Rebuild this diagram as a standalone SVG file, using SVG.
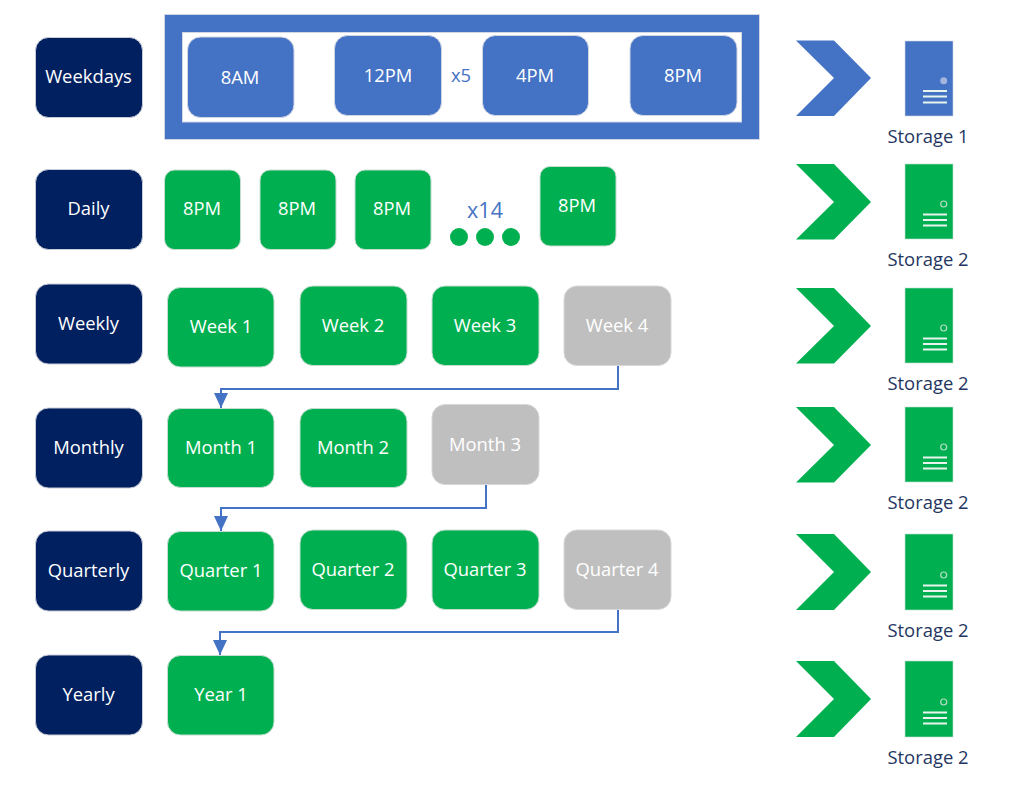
<svg xmlns="http://www.w3.org/2000/svg" width="1024" height="793" viewBox="0 0 1024 793">
<style>
text{font-family:"Open Sans","Liberation Sans",sans-serif;text-anchor:middle;font-size:18.4px}
.l{fill:#fff}
.n{fill:#002060;stroke:#c8ccd6;stroke-width:1}
.b{fill:#4472c4;stroke:#d0d6e4;stroke-width:1}
.g{fill:#00b050;stroke:#c4ddcf;stroke-width:1}
.y{fill:#bfbfbf;stroke:#d8d8d8;stroke-width:1}
.s{fill:#24365f}
.c{fill:none;stroke:#4472c4;stroke-width:2}
.sl{stroke:#e8f4ee;stroke-width:2}
.o{fill:none;stroke:#b4dfc6;stroke-width:1.200}
</style>
<defs><marker id="a" markerWidth="14" markerHeight="15" refX="7" refY="15" orient="0" markerUnits="userSpaceOnUse"><path d="M0 0H14L7 15Z" fill="#4472c4"/></marker></defs>
<rect width="1024" height="793" fill="#fff"/>
<g id="frame"><rect x="164.500" y="14.500" width="595" height="125" fill="#4472c4" stroke="#d0d6e4"/><rect x="182.500" y="32.500" width="559" height="89.500" fill="#fff" stroke="#d0d6e4"/></g>
<g id="weekdays"><rect class="n" x="35.500" y="37.500" width="107" height="80" rx="13"/><text class="l" x="88.500" y="83">Weekdays</text></g>
<g id="daily"><rect class="n" x="35.500" y="169.500" width="107" height="80" rx="13"/><text class="l" x="88.500" y="215">Daily</text></g>
<g id="weekly"><rect class="n" x="35.500" y="284" width="107" height="80" rx="13"/><text class="l" x="88.500" y="330">Weekly</text></g>
<g id="monthly"><rect class="n" x="35.500" y="408" width="107" height="80" rx="13"/><text class="l" x="88.500" y="453.500">Monthly</text></g>
<g id="quarterly"><rect class="n" x="35.500" y="531" width="107" height="80" rx="13"/><text class="l" x="88.500" y="577">Quarterly</text></g>
<g id="yearly"><rect class="n" x="35.500" y="655" width="107" height="80" rx="13"/><text class="l" x="88.500" y="701">Yearly</text></g>
<g id="t8am"><rect class="b" x="187.500" y="37" width="106.500" height="80.500" rx="13"/><text class="l" x="240" y="83.500">8AM</text></g>
<g id="t12pm"><rect class="b" x="334.500" y="35.500" width="107" height="80" rx="13"/><text class="l" x="388" y="81.500">12PM</text></g>
<text x="461" y="82" fill="#4472c4">x5</text>
<g id="t4pm"><rect class="b" x="482.500" y="35.500" width="106" height="80" rx="13"/><text class="l" x="535" y="81.500">4PM</text></g>
<g id="t8pm"><rect class="b" x="630" y="35.500" width="107" height="80" rx="13"/><text class="l" x="683" y="81.500">8PM</text></g>
<g id="d1"><rect class="g" x="164.500" y="170" width="76" height="79.500" rx="10"/><text class="l" x="202" y="215">8PM</text></g>
<g id="d2"><rect class="g" x="260" y="170" width="76" height="79.500" rx="10"/><text class="l" x="297" y="215">8PM</text></g>
<g id="d3"><rect class="g" x="355" y="170" width="76" height="79.500" rx="10"/><text class="l" x="392" y="215">8PM</text></g>
<g id="d4"><rect class="g" x="540" y="166.500" width="76" height="79.500" rx="10"/><text class="l" x="577" y="211.500">8PM</text></g>
<text x="485" y="217.500" style="font-size:21.500px" fill="#4472c4">x14</text>
<g id="dots" fill="#00b050"><circle cx="459" cy="237" r="9"/><circle cx="485" cy="237" r="9"/><circle cx="511" cy="237" r="9"/></g>
<g id="w1"><rect class="g" x="167.500" y="287.500" width="106.500" height="79.500" rx="13"/><text class="l" x="221" y="332.500">Week 1</text></g>
<g id="w2"><rect class="g" x="300" y="286" width="107" height="79.500" rx="13"/><text class="l" x="353" y="331.500">Week 2</text></g>
<g id="w3"><rect class="g" x="432" y="286" width="107" height="79.500" rx="13"/><text class="l" x="485" y="331.500">Week 3</text></g>
<g id="w4"><rect class="y" x="564" y="286" width="107" height="79.500" rx="13"/><text class="l" x="617" y="331.500">Week 4</text></g>
<g id="m1"><rect class="g" x="167.500" y="408.500" width="106.500" height="79" rx="13"/><text class="l" x="221" y="453.500">Month 1</text></g>
<g id="m2"><rect class="g" x="300" y="408.500" width="107" height="79" rx="13"/><text class="l" x="353" y="453.500">Month 2</text></g>
<g id="m3"><rect class="y" x="432" y="404.500" width="107" height="80" rx="13"/><text class="l" x="485" y="450.500">Month 3</text></g>
<g id="q1"><rect class="g" x="167.500" y="531.500" width="106.500" height="79.500" rx="13"/><text class="l" x="221" y="577">Quarter 1</text></g>
<g id="q2"><rect class="g" x="300" y="530" width="107" height="79.500" rx="13"/><text class="l" x="353" y="575.500">Quarter 2</text></g>
<g id="q3"><rect class="g" x="432" y="530" width="107" height="79.500" rx="13"/><text class="l" x="485" y="575.500">Quarter 3</text></g>
<g id="q4"><rect class="y" x="564" y="530" width="107" height="79.500" rx="13"/><text class="l" x="617" y="575.500">Quarter 4</text></g>
<g id="y1"><rect class="g" x="167.500" y="655.500" width="106.500" height="79.500" rx="13"/><text class="l" x="221" y="701">Year 1</text></g>
<g id="connectors"><path class="c" d="M618 366V389H221V408" marker-end="url(#a)"/><path class="c" d="M486 485V508H221V531" marker-end="url(#a)"/><path class="c" d="M618 610V632H220V655" marker-end="url(#a)"/></g>
<g id="storage1"><path d="M796 40.500H834L871 78L834 116H796L834 78Z" fill="#4472c4"/><rect x="905" y="41" width="48" height="75" fill="#4472c4" stroke="#d0d6e4" stroke-width=".6"/><circle cx="943.700" cy="80.700" r="3.500" fill="#a3b5dd"/><path class="sl" d="M923 91H947M923 96.500H947M923 102.500H947"/><text class="s" x="928" y="142.500">Storage 1</text></g>
<g id="storage2a"><path d="M796 164H834L871 202L834 239.500H796L834 202Z" fill="#00b050"/><rect x="905" y="164" width="48" height="75" fill="#00b050" stroke="#c4ddcf" stroke-width=".6"/><circle class="o" cx="943.700" cy="204" r="3"/><path class="sl" d="M923 214.500H947M923 220H947M923 225.500H947"/><text class="s" x="928" y="266">Storage 2</text></g>
<g id="storage2b"><path d="M796 288H834L871 326L834 363.500H796L834 326Z" fill="#00b050"/><rect x="905" y="288" width="48" height="75" fill="#00b050" stroke="#c4ddcf" stroke-width=".6"/><circle class="o" cx="943.700" cy="328" r="3"/><path class="sl" d="M923 338.500H947M923 344H947M923 349.500H947"/><text class="s" x="928" y="390">Storage 2</text></g>
<g id="storage2c"><path d="M796 407H834L871 445L834 482.500H796L834 445Z" fill="#00b050"/><rect x="905" y="407" width="48" height="75" fill="#00b050" stroke="#c4ddcf" stroke-width=".6"/><circle class="o" cx="943.700" cy="447" r="3"/><path class="sl" d="M923 457.500H947M923 463H947M923 468.500H947"/><text class="s" x="928" y="509">Storage 2</text></g>
<g id="storage2d"><path d="M796 534H834L871 572L834 610H796L834 572Z" fill="#00b050"/><rect x="905" y="534" width="48" height="76" fill="#00b050" stroke="#c4ddcf" stroke-width=".6"/><circle class="o" cx="943.700" cy="575" r="3"/><path class="sl" d="M923 585.500H947M923 591H947M923 596.500H947"/><text class="s" x="928" y="637">Storage 2</text></g>
<g id="storage2e"><path d="M796 661H834L871 699L834 737H796L834 699Z" fill="#00b050"/><rect x="905" y="661" width="48" height="76" fill="#00b050" stroke="#c4ddcf" stroke-width=".6"/><circle class="o" cx="943.700" cy="702" r="3"/><path class="sl" d="M923 712.500H947M923 718H947M923 723.500H947"/><text class="s" x="928" y="764">Storage 2</text></g>
</svg>
